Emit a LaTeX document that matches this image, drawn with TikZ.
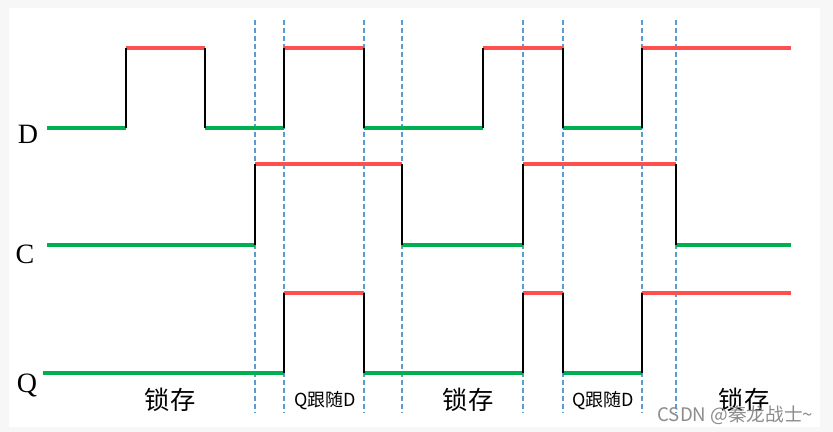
\documentclass[tikz,border=0pt]{standalone}
\usepackage{fontspec}
\setmainfont{Liberation Serif}
\newfontfamily\cjk{Noto Sans CJK SC}
\definecolor{lowgreen}{HTML}{00B050}
\definecolor{highred}{HTML}{FF5050}
\definecolor{guideblue}{HTML}{5B9BD5}
\tikzset{
  low/.style={lowgreen,line width=3pt},
  high/.style={highred,line width=3pt},
  edge/.style={black,line width=1.5pt},
  guide/.style={guideblue,line width=1.1pt,dash pattern=on 3.8pt off 2.2pt},
  sig/.style={anchor=base,font=\fontsize{21}{21}\selectfont},
  phase/.style={font=\cjk\fontsize{19}{19}\selectfont},
  follow/.style={font=\cjk\fontsize{13.5}{13.5}\selectfont}
}
\begin{document}
\begin{tikzpicture}[x=0.75pt,y=-0.75pt]
  \fill[black!3] (0,0) rectangle (833,432);
  \fill[white] (9,8) rectangle (820,427);
  \useasboundingbox (0,0) rectangle (833,432);
  % guides
  \foreach \x in {255,284,364,402,523,563,642,676}
    \draw[guide] (\x,20) -- (\x,413);
  % D
  \draw[low] (47,128) -- (126,128) (205,128) -- (284,128) (364,128) -- (483,128) (563,128) -- (642,128);
  \draw[high] (126,48) -- (205,48) (284,48) -- (364,48) (483,48) -- (563,48) (642,48) -- (791,48);
  \draw[edge] (126,128) -- (126,48) (205,48) -- (205,128) (284,128) -- (284,48) (364,48) -- (364,128)
    (483,128) -- (483,48) (563,48) -- (563,128) (642,128) -- (642,48);
  % C
  \draw[low] (47,245) -- (255,245) (402,245) -- (523,245) (676,245) -- (791,245);
  \draw[high] (255,164) -- (402,164) (523,164) -- (676,164);
  \draw[edge] (255,245) -- (255,164) (402,164) -- (402,245) (523,245) -- (523,164) (676,164) -- (676,245);
  % Q
  \draw[low] (43,373) -- (284,373) (364,373) -- (523,373) (563,373) -- (642,373);
  \draw[high] (284,293) -- (364,293) (523,293) -- (563,293) (642,293) -- (791,293);
  \draw[edge] (284,373) -- (284,293) (364,293) -- (364,373) (523,373) -- (523,293) (563,293) -- (563,373) (642,373) -- (642,293);
  % labels
  \node[sig] (d) at (28,143) {D};
  \node[sig] (c) at (25,263) {C};
  \node[sig] (q) at (27,392) {Q};
  \node[phase] (hold1) at (170,400) {锁存};
  \node[follow] (follow1) at (325,401) {Q跟随D};
  \node[phase] (hold2) at (468,400) {锁存};
  \node[follow] (follow2) at (603,401) {Q跟随D};
  \node[phase] (hold3) at (744,400) {锁存};
  \node[font=\cjk\fontsize{14}{14}\selectfont,text=black!45,anchor=east] (mark) at (818,415) {CSDN @秦龙战士\textasciitilde};
\end{tikzpicture}
\end{document}
